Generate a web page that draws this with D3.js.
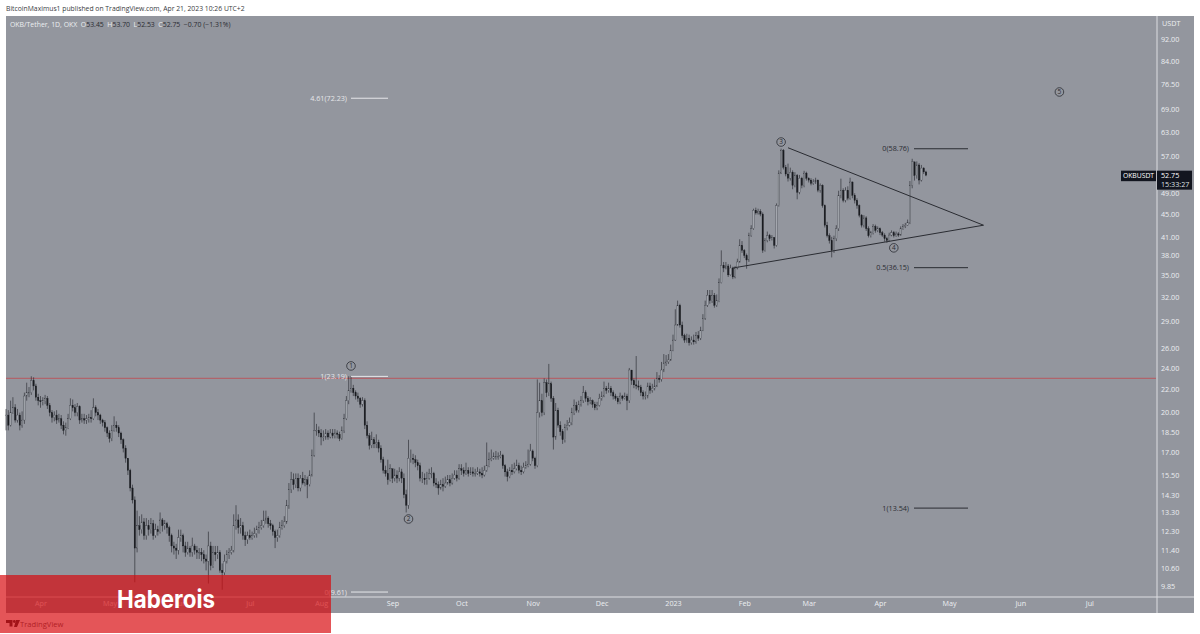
<!DOCTYPE html>
<html><head><meta charset="utf-8">
<script src="https://cdn.jsdelivr.net/npm/d3@7"></script>
<style>html,body{margin:0;padding:0;background:#fff;overflow:hidden}svg{display:block}</style>
</head><body><svg id="c" width="1200" height="634"></svg>
<script>
const startDate = "2022-03-17";
const closes = [
19.8,19.0,20.0,20.4,19.4,19.8,19.0,19.4,21.4,21.7,
21.7,22.8,22.3,21.3,21.0,20.9,21.0,21.2,20.6,20.0,
19.6,19.8,19.4,19.5,19.0,18.6,18.8,19.5,20.6,20.4,
20.0,20.5,19.4,19.5,19.4,19.5,19.6,19.5,20.4,20.0,
19.8,19.4,19.2,18.8,18.4,18.0,18.6,19.0,18.8,18.4,
17.9,17.3,16.6,15.8,14.7,14.0,11.5,12.6,12.4,12.8,
12.1,12.6,12.4,12.7,12.1,12.4,12.3,12.9,12.6,12.7,
12.5,12.1,11.6,11.5,11.4,12.0,12.1,11.6,11.3,11.5,
11.3,11.6,11.4,11.3,11.3,11.2,11.0,10.9,11.6,10.7,
11.3,11.2,11.3,10.5,10.4,10.9,11.2,11.3,11.4,12.6,
12.9,12.5,12.6,12.1,11.9,12.1,12.0,12.1,12.2,12.4,
12.5,12.6,12.9,13.0,12.7,12.6,12.3,12.0,12.1,12.5,
12.6,12.8,13.7,14.6,15.2,14.9,15.3,14.7,15.3,15.0,
15.2,14.9,15.5,16.8,18.6,18.6,18.4,18.1,18.1,18.4,
18.1,18.4,18.2,18.4,18.3,18.0,18.6,19.5,21.0,21.9,
22.1,21.7,21.4,21.2,20.7,21.0,19.0,18.2,17.5,17.9,
17.6,17.7,17.3,16.5,15.8,15.6,15.2,15.9,15.3,15.5,
15.3,15.7,15.3,14.3,13.7,16.6,16.6,16.5,16.3,16.1,
15.3,15.3,15.2,15.3,15.6,15.6,15.0,14.9,14.7,14.9,
14.8,15.0,15.2,15.0,15.3,15.5,15.3,15.9,15.8,15.6,
15.8,15.6,15.7,15.6,15.6,15.7,15.6,15.5,15.8,16.1,
16.5,16.6,16.7,16.7,16.7,16.8,16.1,15.7,15.4,15.8,
15.7,15.9,16.1,15.8,15.7,16.0,16.1,16.2,17.1,16.6,
16.1,20.0,21.0,20.0,22.6,21.7,22.5,21.2,18.1,20.2,
19.0,18.5,17.9,18.8,19.0,19.2,20.0,20.6,20.2,20.7,
21.0,21.7,21.2,20.9,21.0,20.7,20.4,20.6,21.2,21.4,
22.1,21.9,22.1,21.7,21.4,21.2,20.9,21.4,21.2,21.4,
21.0,23.8,22.8,22.4,22.3,22.2,21.7,21.4,21.4,22.3,
21.9,22.1,22.3,23.0,22.9,23.8,24.5,24.6,24.8,25.8,
26.9,28.6,31.0,28.6,27.4,26.9,27.1,26.6,26.9,26.7,
27.4,27.1,28.0,29.4,31.0,32.3,31.6,32.3,31.0,31.6,
34.0,36.5,36.1,36.4,35.1,36.1,34.8,36.1,37.0,39.6,
38.8,38.0,37.3,41.2,42.4,45.7,45.2,45.5,45.0,38.8,
40.4,41.2,40.7,40.9,39.6,46.6,53.2,58.4,54.5,53.0,
52.1,53.4,50.6,52.7,49.2,52.1,50.6,53.2,52.1,51.7,
51.0,51.3,51.7,49.6,50.6,46.6,43.0,41.2,40.4,38.8,
40.7,42.4,48.6,49.6,47.6,49.6,48.0,51.3,48.6,47.6,
46.6,44.8,43.0,44.3,42.4,41.2,41.7,42.8,42.1,42.4,
41.7,41.3,40.7,40.4,41.3,41.7,41.2,41.5,41.3,42.4,
42.8,43.0,43.5,50.6,55.7,52.7,55.0,51.7,54.3,53.45,
52.75];
const highs = [
20.3,20.2,21.0,21.3,20.7,20.3,20.0,20.1,21.7,22.6,
22.2,23.2,23.1,22.5,21.6,21.4,21.3,21.5,21.4,20.8,
20.2,20.1,20.2,19.9,19.8,19.3,19.2,19.9,21.2,21.1,
20.7,20.8,20.6,19.9,19.9,19.8,19.9,20.2,21.2,20.6,
20.3,19.9,19.5,19.4,18.9,18.6,19.0,19.7,19.3,19.0,
18.5,18.0,17.5,16.6,15.9,14.9,14.2,13.4,13.1,13.2,
13.0,13.0,12.9,13.0,12.9,12.7,12.6,13.3,13.0,12.9,
12.8,12.6,12.2,11.8,11.7,12.4,12.4,12.2,11.8,11.8,
11.6,12.0,11.7,11.6,11.5,11.5,11.4,11.2,12.3,11.8,
11.6,11.6,11.6,11.4,10.8,11.2,11.4,11.5,11.6,13.2,
13.7,13.2,13.0,12.8,12.3,12.3,12.4,12.3,12.5,12.6,
12.8,12.9,13.4,13.4,13.1,12.9,12.7,12.4,12.4,12.8,
12.9,13.1,14.0,15.0,15.7,15.6,15.6,15.6,15.5,15.7,
15.5,15.4,15.8,17.2,20.0,19.1,18.9,18.7,18.6,18.7,
18.6,18.7,18.7,18.7,18.6,18.5,18.9,19.9,21.4,23.2,
23.2,22.4,21.9,21.7,21.3,21.3,21.2,19.3,18.4,18.5,
18.1,18.3,17.9,17.5,16.7,16.1,16.5,16.2,15.9,15.9,
15.8,16.0,15.9,15.6,14.6,17.9,17.2,16.9,16.8,16.5,
16.3,15.7,15.6,15.7,15.9,16.0,15.7,15.3,15.1,15.2,
15.3,15.4,15.5,15.5,15.6,15.8,15.8,16.2,16.2,16.0,
16.3,16.0,16.0,16.0,15.9,16.0,15.9,16.0,16.1,17.7,
17.0,17.2,17.0,17.1,17.0,17.1,16.9,16.2,15.9,16.0,
16.2,16.3,16.5,16.3,16.1,16.3,16.4,17.2,17.6,17.2,
16.7,22.9,22.6,21.6,23.0,22.9,24.4,22.7,21.4,20.8,
20.4,19.3,18.7,19.1,19.4,19.6,20.4,21.1,20.9,21.0,
21.4,22.3,21.9,21.4,21.3,21.1,20.9,20.9,21.6,21.8,
22.7,22.3,22.6,22.3,21.9,21.6,21.4,21.7,21.5,21.7,
21.6,24.0,23.8,23.0,25.2,22.8,22.4,21.9,21.8,22.6,
22.6,22.5,22.9,23.6,23.3,24.6,25.4,25.3,25.4,26.4,
27.5,30.5,31.6,31.2,29.0,27.6,27.6,27.5,27.3,27.5,
27.8,27.9,28.4,29.9,31.6,33.0,33.0,33.0,32.6,32.4,
34.6,38.8,37.0,37.0,36.7,36.6,36.3,36.4,37.5,40.6,
40.3,39.0,38.3,41.7,43.0,46.0,46.2,46.0,45.9,45.3,
40.8,41.9,41.5,41.3,40.9,47.0,53.8,58.8,58.7,55.0,
55.3,54.4,53.8,53.4,53.0,52.8,52.4,53.7,53.5,52.3,
52.1,51.9,52.2,51.8,51.0,50.8,46.8,43.6,41.6,41.0,
41.2,43.0,49.5,52.0,50.0,50.2,50.4,52.2,51.4,49.0,
48.0,46.8,45.0,44.8,44.6,42.8,42.0,43.2,43.1,42.8,
42.6,42.0,41.6,41.0,41.7,42.1,42.0,41.9,41.8,42.8,
43.2,43.4,44.0,51.5,56.4,55.6,55.8,55.4,55.0,54.5,
53.70];
const lows = [
18.6,18.6,18.9,19.9,19.2,19.2,18.6,18.8,19.1,21.0,
21.3,21.5,21.9,21.0,20.6,20.4,20.6,20.7,20.3,19.7,
19.2,19.3,19.1,19.2,18.7,18.3,18.2,18.7,19.4,20.1,
19.7,19.7,19.1,19.2,19.1,19.1,19.2,19.2,19.4,19.7,
19.4,19.1,18.9,18.5,18.1,17.7,17.8,18.5,18.5,18.1,
17.6,17.0,16.3,15.5,14.5,13.8,10.0,11.3,12.1,12.2,
11.9,11.9,12.1,12.2,11.9,12.0,12.1,12.2,12.3,12.4,
12.2,11.8,11.3,11.2,11.0,11.2,11.8,11.3,11.1,11.2,
11.1,11.1,11.2,11.0,11.0,10.9,10.8,10.5,9.95,10.5,
10.6,10.9,11.0,10.4,9.7,10.3,10.8,11.0,11.2,11.3,
12.4,12.2,12.2,11.9,11.6,11.7,11.9,11.9,12.0,12.0,
12.2,12.4,12.5,12.7,12.5,12.4,12.1,11.5,11.8,12.0,
12.4,12.5,12.7,13.5,14.4,14.6,14.7,14.5,14.5,14.9,
14.8,14.1,14.8,15.4,16.7,18.2,18.1,17.5,17.8,17.9,
17.9,18.0,18.0,18.0,18.0,17.8,17.9,18.4,19.4,20.7,
21.7,21.4,21.1,20.9,20.4,20.5,18.7,18.0,17.2,17.3,
17.3,17.3,17.0,16.3,15.6,15.4,14.9,15.1,15.0,15.1,
15.0,15.1,15.0,14.1,13.3,13.5,16.3,16.2,16.0,15.8,
15.1,15.0,14.9,14.9,15.2,15.3,14.8,14.7,14.3,14.6,
14.5,14.7,14.9,14.8,14.9,15.2,15.1,15.2,15.5,15.4,
15.5,15.4,15.5,15.4,15.4,15.5,15.4,15.3,15.4,15.7,
16.0,16.4,16.5,16.5,16.5,16.6,15.9,15.4,15.1,15.3,
15.5,15.6,15.8,15.6,15.5,15.6,15.9,16.0,16.1,16.4,
15.9,16.0,19.6,19.7,19.8,21.3,21.4,20.9,17.2,17.9,
18.8,18.2,17.6,17.7,18.6,18.9,19.0,19.8,20.0,20.0,
20.5,20.8,20.9,20.6,20.7,20.4,20.2,20.2,20.5,21.0,
21.3,21.6,21.7,21.4,21.1,21.0,20.7,20.7,21.0,21.1,
20.2,20.8,22.4,22.1,22.0,21.9,21.4,21.1,21.1,21.2,
21.6,21.7,21.9,22.2,22.6,22.7,23.6,24.2,24.4,24.7,
25.7,26.8,28.5,28.3,27.1,26.6,26.6,26.3,26.4,26.4,
26.5,26.8,26.9,27.9,29.2,30.8,31.2,31.3,30.7,30.8,
31.4,33.9,35.5,35.9,34.8,35.0,34.5,34.6,35.9,36.9,
38.4,37.6,36.0,37.0,41.0,42.2,44.9,44.9,44.6,38.4,
38.6,40.1,40.3,40.4,39.1,39.4,46.4,53.0,54.0,52.5,
51.4,51.6,49.8,50.2,47.8,48.8,50.0,50.2,51.6,51.2,
50.6,50.7,50.9,49.2,49.1,46.2,42.6,40.9,39.9,37.7,
38.4,40.3,42.0,48.0,47.2,47.2,47.6,47.7,48.0,47.0,
46.0,44.4,42.6,42.6,42.0,40.9,40.9,41.4,41.7,41.8,
41.3,41.0,40.2,40.0,40.2,41.1,40.9,41.0,41.0,41.2,
42.2,42.5,42.9,43.2,50.0,51.6,52.0,50.8,51.4,53.0,
52.53];
const priceTicks = [92,84,76.5,69,63,57,49,45,41,38,35,32,29,26,24,22,20,18.5,17,15.5,14.3,13.3,12.3,11.4,10.6,9.85];
const timeTickDates = ["2022-04-01","2022-05-01","2022-06-01","2022-07-01","2022-08-01","2022-09-01","2022-10-01","2022-11-01","2022-12-01","2023-01-01","2023-02-01","2023-03-01","2023-04-01","2023-05-01","2023-06-01","2023-07-01"];
const timeTickLabels = ["Apr","May","Jun","Jul","Aug","Sep","Oct","Nov","Dec","2023","Feb","Mar","Apr","May","Jun","Jul"];
const horizontalLevel = 23.0;
const lastPrice = 52.75;
const fibWhite = [["4.61(72.23)",72.23],["1(23.19)",23.19],["0(9.61)",9.61]];
const fibBlack = [["0(58.76)",58.76],["0.5(36.15)",36.15],["1(13.54)",13.54]];
const waveLabels = [["1","2022-08-14",24.2],["2","2022-09-08",12.95],["3","2023-02-17",60.4],["4","2023-04-07",39.2],["5","2023-06-18",74.1]];
const triangleUpper = [["2023-02-20",59.0],["2023-05-16",43.0]];
const triangleLower = [["2023-01-27",36.1],["2023-05-16",43.0]];

const svg = d3.select("#c");
const parse = d3.utcParse("%Y-%m-%d");
const day = 864e5;
const t0 = parse(startDate);
const xScale = d3.scaleUtc().domain([t0, parse("2023-07-31")]).range([6, 6 + 2.3 * ((parse("2023-07-31") - t0) / day)]);
const yScale = d3.scaleLog().domain([92, 9.85]).range([39, 586]);
const FONT = "'Open Sans','DejaVu Sans',sans-serif";
const axisText = "#eceef1";

svg.append("rect").attr("x",6).attr("y",16).attr("width",1188).attr("height",597).attr("fill","#93969e");

// horizontal level
svg.append("line").attr("x1",6).attr("x2",1156).attr("y1",yScale(horizontalLevel)).attr("y2",yScale(horizontalLevel))
  .attr("stroke","#b0646b").attr("stroke-width",1.2);

// candles
const bars = closes.map((c,i)=>{
  const o = i ? closes[i-1] : c;
  return {t:d3.utcDay.offset(t0,i),o,c,h:Math.max(highs[i],o,c),l:Math.min(lows[i],o,c)};
});
const g = svg.append("g");
g.selectAll("line.w").data(bars).join("line").attr("class","w")
  .attr("x1",d=>xScale(d.t)).attr("x2",d=>xScale(d.t))
  .attr("y1",d=>yScale(d.h)).attr("y2",d=>yScale(d.l))
  .attr("stroke","#2a2c32").attr("stroke-width",0.65);
g.selectAll("rect.b").data(bars).join("rect").attr("class","b")
  .attr("x",d=>xScale(d.t)-0.7).attr("width",1.4)
  .attr("y",d=>yScale(Math.max(d.o,d.c)))
  .attr("height",d=>Math.max(0.6,Math.abs(yScale(d.o)-yScale(d.c))))
  .attr("fill",d=>d.c>=d.o?"#a4a7ae":"#191b20")
  .attr("stroke",d=>d.c>=d.o?"#3a3c43":"#191b20").attr("stroke-width",0.3);

// triangle
const lineGen = d3.line().x(d=>xScale(parse(d[0]))).y(d=>yScale(d[1]));
[triangleUpper,triangleLower].forEach(p=>svg.append("path").attr("d",lineGen(p)).attr("fill","none").attr("stroke","#2a2c32").attr("stroke-width",1));

// fib levels
function fib(list,color,x1,x2,tx){
  list.forEach(([t,v])=>{
    svg.append("line").attr("x1",x1).attr("x2",x2).attr("y1",yScale(v)).attr("y2",yScale(v)).attr("stroke",color).attr("stroke-width",1);
    svg.append("text").attr("x",tx).attr("y",yScale(v)+2.6).attr("text-anchor","end").attr("font-family",FONT).attr("font-size",7.2).attr("fill",color).text(t);
  });
}
fib(fibWhite,"#e6e7ea",351,388,347);
fib(fibBlack,"#2a2c32",914,968,909);

// wave labels
waveLabels.forEach(([t,d,v])=>{
  const cx=xScale(parse(d)), cy=yScale(v);
  svg.append("circle").attr("cx",cx).attr("cy",cy).attr("r",4.3).attr("fill","none").attr("stroke","#2a2c32").attr("stroke-width",0.8);
  svg.append("text").attr("x",cx).attr("y",cy+2.3).attr("text-anchor","middle").attr("font-family",FONT).attr("font-size",6.5).attr("fill","#2a2c32").text(t);
});

// frame lines
svg.append("line").attr("x1",1157).attr("x2",1157).attr("y1",16).attr("y2",613).attr("stroke","#dcdde1").attr("stroke-width",1);
svg.append("line").attr("x1",6).attr("x2",1194).attr("y1",597).attr("y2",597).attr("stroke","#dcdde1").attr("stroke-width",1);

// axes
const yAxis = d3.axisRight(yScale).tickValues(priceTicks).tickSize(0).tickPadding(4).tickFormat(d3.format(".2f"));
const ya = svg.append("g").attr("transform","translate(1157,0)").call(yAxis);
const xAxis = d3.axisBottom(xScale).tickValues(timeTickDates.map(parse)).tickSize(0).tickPadding(4)
  .tickFormat((d,i)=>timeTickLabels[i]);
const xa = svg.append("g").attr("transform","translate(0,597)").call(xAxis);
[ya,xa].forEach(a=>{a.select(".domain").remove();a.selectAll("text").attr("font-family",FONT).attr("font-size",7.2).attr("fill",axisText);});
svg.append("text").attr("x",1162).attr("y",26).attr("font-family",FONT).attr("font-size",7.2).attr("fill",axisText).text("USDT");

// price tag
const py = yScale(lastPrice);
svg.append("rect").attr("x",1121).attr("y",py-4.5).attr("width",35).attr("height",10.5).attr("fill","#12151f");
svg.append("text").attr("x",1138.5).attr("y",py+3.3).attr("text-anchor","middle").attr("font-family",FONT).attr("font-size",6.8).attr("fill","#fff").text("OKBUSDT");
svg.append("rect").attr("x",1157).attr("y",py-4.5).attr("width",35).attr("height",19).attr("fill","#12151f");
svg.append("text").attr("x",1161).attr("y",py+3.3).attr("font-family",FONT).attr("font-size",7.2).attr("fill","#fff").text(lastPrice.toFixed(2));
svg.append("text").attr("x",1161).attr("y",py+12).attr("font-family",FONT).attr("font-size",7.2).attr("fill","#dfe0e3").text("15:33:27");

// header
svg.append("text").attr("x",6).attr("y",10.5).attr("font-family",FONT).attr("font-size",6.8).attr("fill","#3a3c42")
  .text("BitcoinMaximus1 published on TradingView.com, Apr 21, 2023 10:26 UTC+2");
const legend = svg.append("text").attr("x",10).attr("y",27).attr("font-family",FONT).attr("font-size",6.9).attr("xml:space","preserve");
[["OKB/Tether, 1D, OKX  O","#eceef1"],["53.45","#2a2c32"],["  H","#eceef1"],["53.70","#2a2c32"],["  L","#eceef1"],["52.53","#2a2c32"],["  C","#eceef1"],["52.75  −0.70 (−1.31%)","#2a2c32"]]
  .forEach(([t,c])=>legend.append("tspan").attr("fill",c).text(t));

// TradingView mark
const tv = svg.append("g").attr("transform","translate(6,620)");
tv.append("path").attr("d","M0 0H6.5V6.5H3.5V3H0Z M10 0H14L11 7H8Z").attr("fill","#2a2a30");
tv.append("circle").attr("cx",8.3).attr("cy",1.5).attr("r",1.4).attr("fill","#2a2a30");
svg.append("text").attr("x",20).attr("y",627).attr("font-family",FONT).attr("font-size",7.6).attr("fill","#55565c").text("TradingView");

// red banner
svg.append("rect").attr("x",0).attr("y",575).attr("width",331).attr("height",58).attr("fill","rgb(216,9,13)").attr("fill-opacity",0.69);
svg.append("text").attr("x",117).attr("y",608).attr("textLength",98).attr("lengthAdjust","spacingAndGlyphs").attr("font-family","Inter,Lato,sans-serif").attr("font-weight",700).attr("font-size",24.5).attr("fill","#fff").text("Haberois");
</script></body></html>
